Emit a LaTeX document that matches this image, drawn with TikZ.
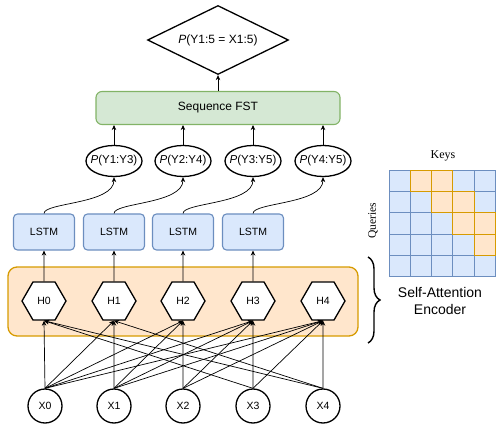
\documentclass[tikz,border=0pt]{standalone}
\usepackage{fontspec}
\setmainfont{Liberation Sans}
\newfontfamily\serifont{Liberation Serif}
\usetikzlibrary{arrows.meta,shapes.geometric,decorations.pathreplacing}
\definecolor{gfill}{HTML}{D5E8D4}
\definecolor{gline}{HTML}{82B366}
\definecolor{bfill}{HTML}{DAE8FC}
\definecolor{bline}{HTML}{6C8EBF}
\definecolor{ofill}{HTML}{FFE6CC}
\definecolor{oline}{HTML}{D79B00}
\begin{document}
\begin{tikzpicture}[x=1pt,y=-1pt,
  arr/.style={-{Stealth[length=5pt,width=4.5pt]}, line width=0.7pt},
  xnode/.style={circle, draw, fill=white, line width=1.3pt, minimum size=34pt, inner sep=0pt, font=\fontsize{10.5}{12}\selectfont},
  hnode/.style={regular polygon, regular polygon sides=6, draw, fill=white, line width=1.3pt, minimum size=44pt, inner sep=0pt, font=\fontsize{10.5}{12}\selectfont},
  lstm/.style={rectangle, rounded corners=4pt, draw=bline, fill=bfill, line width=1.1pt, minimum width=61pt, minimum height=36pt, inner sep=0pt, font=\fontsize{10.5}{12}\selectfont},
  pnode/.style={ellipse, draw, fill=white, line width=1.3pt, minimum width=56pt, minimum height=31pt, inner sep=0pt, font=\fontsize{11.5}{14}\selectfont},
  fstbox/.style={rectangle, rounded corners=6pt, draw=gline, fill=gfill, line width=1.1pt, minimum width=244pt, minimum height=33pt, inner sep=0pt, font=\fontsize{12}{14}\selectfont},
  dia/.style={diamond, aspect=2, draw, fill=white, line width=1.3pt, minimum width=141pt, minimum height=69pt, inner sep=0pt, font=\fontsize{12}{14}\selectfont},
  bcell/.style={draw=bline, fill=bfill, line width=0.9pt},
  ocell/.style={draw=oline, fill=ofill, line width=0.9pt}
]
\useasboundingbox (0,0) rectangle (497,427);

% container
\draw[draw=oline, fill=ofill, line width=1.3pt, rounded corners=9pt] (8,267) rectangle (358,336);

% X nodes
\foreach \i/\x in {0/45,1/114,2/183,3/253,4/323}
  \node[xnode] (x\i) at (\x,406) {X\i};

% H nodes
\foreach \i/\x in {0/44,1/114,2/183,3/253,4/323}
  \node[hnode] (h\i) at (\x,301) {H\i};

% X -> H edges
\foreach \j in {0,...,4}{
  \foreach \i in {0,...,\j}{
    \draw[arr] (x\i.north) -- (h\j.south);
  }
}
\draw[arr] (x3.north) -- (h0.south);
\draw[arr] (x4.north) -- (h0.south);
\draw[arr] (x4.north) -- (h1.south);

% LSTM
\foreach \i/\x in {0/44,1/114,2/183,3/253}
  \node[lstm] (l\i) at (\x,232) {LSTM};
\foreach \i in {0,...,3}
  \draw[arr] (h\i.north) -- (l\i.south);

% P ellipses
\node[pnode] (p1) at (114,161) {\makebox[0pt]{\textit{P}(Y1:Y3)}};
\node[pnode] (p2) at (183,161) {\makebox[0pt]{\textit{P}(Y2:Y4)}};
\node[pnode] (p3) at (253,161) {\makebox[0pt]{\textit{P}(Y3:Y5)}};
\node[pnode] (p4) at (323,161) {\makebox[0pt]{\textit{P}(Y4:Y5)}};

\foreach \i/\k in {0/1,1/2,2/3,3/4}
  \draw[arr] (l\i.north) .. controls +(0,-11) and +(0,27) .. (p\k.south);

% FST
\node[fstbox] (fst) at (218,108) {Sequence FST};
\foreach \k in {1,...,4}
  \draw[arr] (p\k.north) -- (p\k.north |- fst.south);

% Diamond
\node[dia] (d) at (218,40) {\textit{P}(Y1:5 = X1:5)};
\draw[arr] (fst.north) -- (d.south);

% Attention matrix
\foreach \r in {0,...,4}{
  \foreach \c in {0,...,4}{
    \draw[bcell] (389.3+\c*21.2, 170.7+\r*21.1) rectangle ++(21.2,21.1);
  }
}
\foreach \r/\c in {0/1,0/2,1/2,1/3,2/3,2/4,3/4}
  \draw[ocell] (389.3+\c*21.2, 170.7+\r*21.1) rectangle ++(21.2,21.1);

\node[font=\serifont\fontsize{12}{14}\selectfont] (keys) at (443,156) {Keys};
\node[font=\serifont\fontsize{11.5}{14}\selectfont, rotate=90] (queries) at (373,221) {Queries};

% brace
\coordinate (bt) at (368,257);
\coordinate (bb) at (368,343);
\draw[decorate, decoration={brace, amplitude=12pt}, line width=1.4pt] (bt) -- (bb);
\node[font=\fontsize{14}{17}\selectfont, align=center] (sae) at (440,301) {Self-Attention\\Encoder};
\end{tikzpicture}
\end{document}
